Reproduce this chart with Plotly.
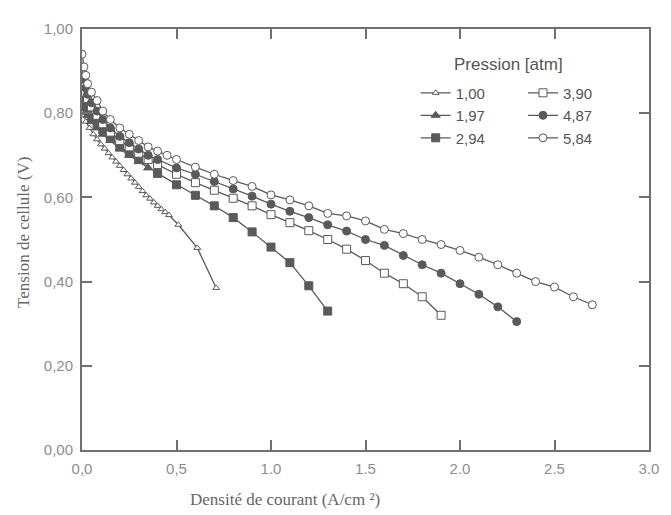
import plotly.graph_objects as go

# Pression [atm] series: current density (A/cm²) and cell voltage (V)
p100_x = [0, 0.01, 0.02, 0.04, 0.06, 0.08, 0.10, 0.12, 0.14, 0.16, 0.18, 0.20, 0.22, 0.24, 0.26,
          0.28, 0.30, 0.32, 0.34, 0.36, 0.38, 0.40, 0.42, 0.44, 0.46, 0.51, 0.61, 0.71]
p100_y = [0.82, 0.795, 0.78, 0.765, 0.75, 0.738, 0.726, 0.716, 0.705, 0.695, 0.685, 0.675, 0.665, 0.655, 0.645,
          0.635, 0.625, 0.615, 0.605, 0.597, 0.588, 0.580, 0.572, 0.565, 0.558, 0.535, 0.480, 0.385]

p197_x = [0, 0.01, 0.02, 0.03, 0.05, 0.08, 0.11, 0.15, 0.20, 0.25, 0.30, 0.35]
p197_y = [0.85, 0.83, 0.81, 0.795, 0.78, 0.765, 0.75, 0.735, 0.715, 0.70, 0.685, 0.67]

p294_x = [0, 0.01, 0.02, 0.03, 0.05, 0.08, 0.11, 0.15, 0.20, 0.25, 0.30, 0.40, 0.50, 0.60,
          0.70, 0.80, 0.90, 1.00, 1.10, 1.20, 1.30]
p294_y = [0.87, 0.84, 0.82, 0.805, 0.79, 0.775, 0.76, 0.74, 0.72, 0.705, 0.69, 0.657, 0.63, 0.605,
          0.58, 0.552, 0.518, 0.482, 0.445, 0.39, 0.33]

p390_x = [0, 0.01, 0.02, 0.03, 0.05, 0.08, 0.11, 0.15, 0.20, 0.25, 0.30, 0.35, 0.40, 0.50, 0.60,
          0.70, 0.80, 0.90, 1.00, 1.10, 1.20, 1.30, 1.40, 1.50, 1.60, 1.70, 1.80, 1.90]
p390_y = [0.90, 0.87, 0.85, 0.835, 0.815, 0.795, 0.775, 0.755, 0.735, 0.72, 0.705, 0.69, 0.678, 0.655, 0.635,
          0.617, 0.598, 0.58, 0.559, 0.54, 0.521, 0.50, 0.477, 0.45, 0.42, 0.395, 0.364, 0.32]

p487_x = [0, 0.01, 0.02, 0.03, 0.05, 0.08, 0.11, 0.15, 0.20, 0.25, 0.30, 0.35, 0.40, 0.50, 0.60, 0.70,
          0.80, 0.90, 1.00, 1.10, 1.20, 1.30, 1.40, 1.50, 1.60, 1.70, 1.80, 1.90, 2.00, 2.10, 2.20, 2.30]
p487_y = [0.91, 0.88, 0.86, 0.845, 0.825, 0.805, 0.785, 0.765, 0.745, 0.73, 0.715, 0.70, 0.69, 0.67, 0.655, 0.638,
          0.62, 0.603, 0.584, 0.567, 0.552, 0.535, 0.52, 0.50, 0.486, 0.462, 0.44, 0.42, 0.395, 0.37, 0.34, 0.305]

p584_x = [0, 0.01, 0.02, 0.03, 0.05, 0.08, 0.11, 0.15, 0.20, 0.25, 0.30, 0.35, 0.40, 0.45, 0.50, 0.60,
          0.70, 0.80, 0.90, 1.00, 1.10, 1.20, 1.30, 1.40, 1.50, 1.60, 1.70, 1.80, 1.90, 2.00, 2.10,
          2.20, 2.30, 2.40, 2.50, 2.60, 2.70]
p584_y = [0.94, 0.91, 0.89, 0.87, 0.85, 0.83, 0.805, 0.785, 0.765, 0.75, 0.735, 0.72, 0.71, 0.70, 0.69, 0.672,
          0.655, 0.64, 0.626, 0.606, 0.594, 0.58, 0.562, 0.556, 0.544, 0.524, 0.514, 0.50, 0.488, 0.474, 0.458,
          0.44, 0.42, 0.40, 0.387, 0.364, 0.345]

x_tickvals = [0, 0.5, 1.0, 1.5, 2.0, 2.5, 3.0]
x_ticktext = ["0,0", "0,5", "1.0", "1.5", "2.0", "2.5", "3.0"]
y_tickvals = [0, 0.2, 0.4, 0.6, 0.8, 1.0]
y_ticktext = ["0,00", "0,20", "0,40", "0,60", "0,80", "1,00"]

LINE = "#5a5a5a"
AX = "#707070"

series = [
    ("1,00", p100_x, p100_y, "triangle-up", "white", 6, "legend"),
    ("1,97", p197_x, p197_y, "triangle-up", LINE, 8, "legend"),
    ("2,94", p294_x, p294_y, "square", LINE, 8, "legend"),
    ("3,90", p390_x, p390_y, "square", "white", 8, "legend2"),
    ("4,87", p487_x, p487_y, "circle", LINE, 8, "legend2"),
    ("5,84", p584_x, p584_y, "circle", "white", 8, "legend2"),
]

fig = go.Figure()
for name, xs, ys, sym, fill, size, lg in series:
    fig.add_trace(go.Scatter(
        x=xs, y=ys, name=name, mode="lines+markers", legend=lg,
        line=dict(color=LINE, width=1.3),
        marker=dict(symbol=sym, color=fill, size=size, line=dict(color=LINE, width=1)),
    ))

axis_common = dict(
    showline=True, linecolor=AX, linewidth=2, mirror="ticks",
    ticks="inside", ticklen=10, tickwidth=1.5, tickcolor=AX,
    showgrid=False, zeroline=False,
    tickfont=dict(family="Liberation Sans, Arial", size=15, color="#8e8e8e"),
)

legend_font = dict(family="Liberation Sans, Arial", size=15, color="#555555")

# The page adds an 8px body margin, so the figure is shrunk by 8px and margins reduced accordingly
fig.update_layout(
    width=663, height=507,
    margin=dict(l=74, r=13, t=16, b=65),
    paper_bgcolor="white", plot_bgcolor="white",
    xaxis=dict(range=[0, 3], tickvals=x_tickvals, ticktext=x_ticktext, ticklabelstandoff=4, **axis_common),
    yaxis=dict(range=[0, 1], tickvals=y_tickvals, ticktext=y_ticktext, ticklabelstandoff=4, **axis_common),
    legend=dict(x=0.5885, y=0.887, xanchor="left", yanchor="top", bgcolor="rgba(0,0,0,0)",
                font=legend_font, borderwidth=0, tracegroupgap=0),
    legend2=dict(x=0.7778, y=0.887, xanchor="left", yanchor="top", bgcolor="rgba(0,0,0,0)",
                 font=legend_font, borderwidth=0, tracegroupgap=0),
    annotations=[
        dict(text="Pression [atm]", xref="paper", yref="paper", x=0.752, y=0.9155,
             xanchor="center", yanchor="middle", showarrow=False,
             font=dict(family="Liberation Sans, Arial", size=17, color="#555555")),
        dict(text="Densité de courant (A/cm ²)", xref="paper", yref="paper", x=0.358, y=-0.117,
             xanchor="center", yanchor="middle", showarrow=False,
             font=dict(family="Liberation Serif, Times New Roman", size=17, color="#666666")),
        dict(text="Tension de cellule (V)", xref="paper", yref="paper", x=-0.102, y=0.516,
             xanchor="center", yanchor="middle", showarrow=False, textangle=-90,
             font=dict(family="Liberation Serif, Times New Roman", size=17, color="#666666")),
    ],
)

fig.write_html("out.html")
